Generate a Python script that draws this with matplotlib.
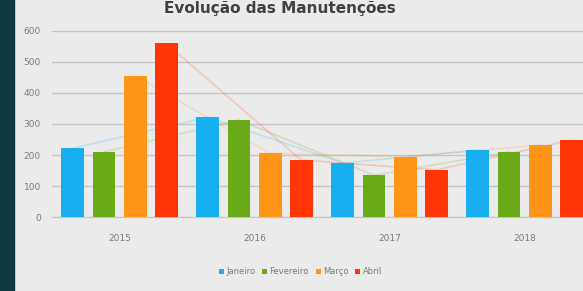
import numpy as np
import matplotlib.pyplot as plt
from matplotlib.patches import Rectangle

years = ["2015", "2016", "2017", "2018"]
months = ["Janeiro", "Fevereiro", "Março", "Abril"]
janeiro = [222, 322, 174, 216]
fevereiro = [210, 313, 135, 210]
marco = [455, 206, 194, 232]
abril = [560, 184, 152, 248]
series = [janeiro, fevereiro, marco, abril]
colors = ["#19aef0", "#6aa917", "#ff9619", "#ff3604"]

bg = "#ebebeb"
fig = plt.figure(figsize=(5.83, 2.91), dpi=100, facecolor=bg)
ax = fig.add_axes([52 / 583, 0.254, 540 / 583, 0.64])
ax.set_facecolor(bg)

# dark strip on the left edge
fig.patches.append(Rectangle((0, 0), 14 / 583, 1, transform=fig.transFigure,
                             color="#0d3a40", zorder=0))

x = np.arange(len(years))
step = 0.23
width = 0.17
for i, (vals, name, c) in enumerate(zip(series, months, colors)):
    pos = x + (i - 1.5) * step
    ax.bar(pos, vals, width=width, color=c, label=name, zorder=3)
    ax.plot(pos, vals, color=c, alpha=0.2, lw=1.2, zorder=2)

ax.set_ylim(0, 600)
ax.set_xlim(-0.5, 3.5)
ax.set_yticks(range(0, 601, 100))
ax.set_xticks(x, years)
ax.grid(axis="y", color="#c4c4c4", lw=1, zorder=0)
for s in ["top", "right", "left"]:
    ax.spines[s].set_visible(False)
ax.spines["bottom"].set_color("#c4c4c4")
ax.tick_params(length=0, labelsize=6.5, colors="#7a7a7a", pad=8)
ax.tick_params(axis="x", pad=12)

fig.text(0.48, 0.998, "Evolução das Manutenções", ha="center", va="top",
         fontsize=11, fontweight="bold", color="#404040")

ax.legend(loc="upper center", bbox_to_anchor=(0.46, -0.23), ncol=4,
          frameon=False, fontsize=6, labelcolor="#7a7a7a",
          handlelength=0.6, handleheight=0.6, handletextpad=0.3,
          columnspacing=0.8)

fig.savefig("out.png", dpi=100, facecolor=bg)
